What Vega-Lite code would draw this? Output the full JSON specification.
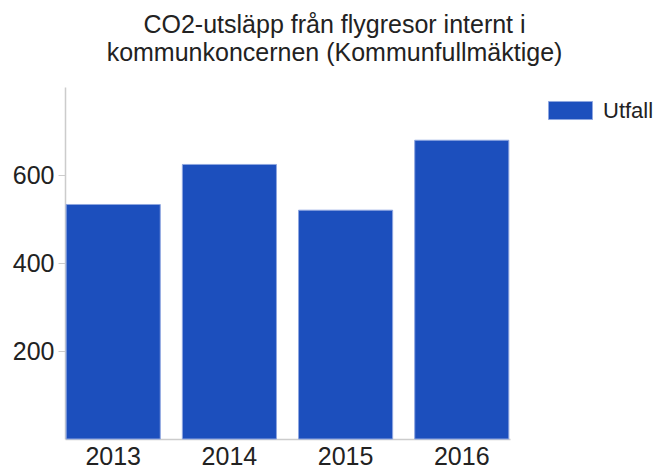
{
  "$schema": "https://vega.github.io/schema/vega-lite/v6.json",
  "autosize": "none",
  "width": 445,
  "height": 352,
  "padding": {"left": 65, "top": 87, "right": 146, "bottom": 32},
  "background": "white",
  "view": {"stroke": null},
  "title": {
    "text": ["CO2-utsläpp från flygresor internt i", "kommunkoncernen (Kommunfullmäktige)"],
    "font": "Liberation Sans",
    "fontSize": 25,
    "fontWeight": "normal",
    "color": "#222222",
    "anchor": "middle",
    "frame": "group",
    "dx": 47,
    "offset": 21,
    "lineHeight": 28
  },
  "data": {
    "values": [
      {"year": "2013", "series": "Utfall", "value": 533},
      {"year": "2014", "series": "Utfall", "value": 624},
      {"year": "2015", "series": "Utfall", "value": 520},
      {"year": "2016", "series": "Utfall", "value": 679}
    ]
  },
  "mark": {"type": "bar", "stroke": "#8ea6e0", "strokeWidth": 1},
  "encoding": {
    "x": {
      "field": "year",
      "type": "ordinal",
      "scale": {"paddingInner": 0.19, "paddingOuter": 0.01},
      "axis": {
        "title": null,
        "labelAngle": 0,
        "labelFont": "Liberation Sans",
        "labelFontSize": 25,
        "labelColor": "#222222",
        "labelPadding": 5,
        "ticks": false,
        "domainColor": "#cccccc",
        "domainWidth": 1.5
      }
    },
    "y": {
      "field": "value",
      "type": "quantitative",
      "scale": {"domain": [0, 800]},
      "axis": {
        "title": null,
        "values": [200, 400, 600],
        "grid": false,
        "labelFont": "Liberation Sans",
        "labelFontSize": 25,
        "labelColor": "#222222",
        "labelPadding": 4,
        "tickSize": 7,
        "tickColor": "#cccccc",
        "domainColor": "#cccccc",
        "domainWidth": 1.5
      }
    },
    "color": {
      "field": "series",
      "type": "nominal",
      "scale": {"range": ["#1c4fbd"]},
      "legend": {
        "title": null,
        "orient": "none",
        "legendX": 483,
        "legendY": 1,
        "symbolType": "M-1,-0.41H1V0.41H-1Z",
        "symbolSize": 1936,
        "symbolStrokeColor": "#8ea6e0",
        "symbolStrokeWidth": 1,
        "labelFont": "Liberation Sans",
        "labelFontSize": 22,
        "labelColor": "#222222",
        "labelOffset": 10
      }
    }
  }
}
